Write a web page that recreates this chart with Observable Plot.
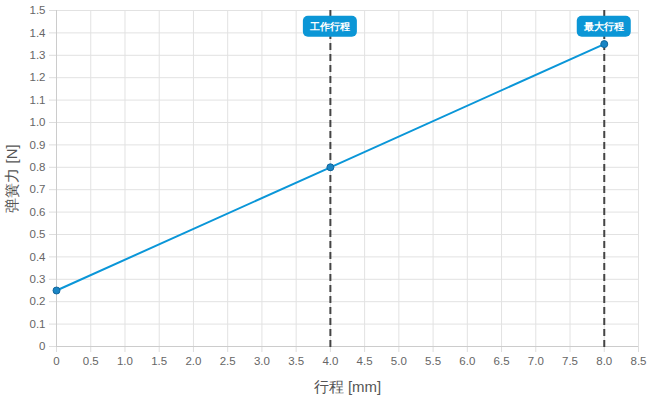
<!DOCTYPE html>
<html><head><meta charset="utf-8">
<script src="https://cdn.jsdelivr.net/npm/d3@7"></script>
<script src="https://cdn.jsdelivr.net/npm/@observablehq/plot@0.6"></script>
<style>body{margin:0;background:#fff;font-family:"Liberation Sans",Arial,sans-serif;}</style>
</head><body><div id="chart"></div>
<script>
const stroke = [0, 4, 8];           // mm
const force = [0.25, 0.8, 1.35];    // N
const markerX = [4, 8];
const markerLabels = ["工作行程", "最大行程"];
const xTicks = d3.range(0, 8.51, 0.5);
const yTicks = d3.range(0, 1.51, 0.1).map(v => +v.toFixed(1));

const pts = stroke.map((x, i) => ({x, y: force[i]}));
const markers = markerX.map((x, i) => ({x, label: markerLabels[i]}));
const fmt = d => d === 0 ? "0" : d.toFixed(1);

const chart = Plot.plot({
  width: 650, height: 400,
  marginLeft: 56, marginRight: 12, marginTop: 10, marginBottom: 54,
  style: {fontFamily: "'Liberation Sans', Arial, sans-serif", fontSize: "11.5px", color: "#666", background: "#fff"},
  x: {domain: [0, 8.5]},
  y: {domain: [0, 1.5]},
  marks: [
    Plot.gridX(xTicks, {stroke: "#e2e2e2", strokeOpacity: 1}),
    Plot.gridY(yTicks, {stroke: "#e2e2e2", strokeOpacity: 1}),
    Plot.axisX(xTicks, {tickFormat: fmt, tickSize: 6, stroke: "#ddd", tickPadding: 4, fill: "#666",
      label: "行程 [mm]", labelAnchor: "center", labelOffset: 45, labelArrow: "none"}),
    Plot.axisY(yTicks, {tickFormat: fmt, tickSize: 7, stroke: "#ddd", tickPadding: 4, fill: "#666",
      label: "弹簧力 [N]", labelAnchor: "center", labelOffset: 50, labelArrow: "none"}),
    Plot.ruleX([0], {stroke: "#ccc"}),
    Plot.ruleY([0], {stroke: "#ccc"}),
    Plot.ruleX(markers, {x: "x", stroke: "#444", strokeWidth: 2, strokeDasharray: "7,4", insetBottom: -4}),
    Plot.line(pts, {x: "x", y: "y", stroke: "#0a96d8", strokeWidth: 2}),
    Plot.dot(pts, {x: "x", y: "y", r: 3.5, fill: "#1a85c4", stroke: "#12669c", strokeWidth: 1}),
    Plot.text(markers, {x: "x", text: "label", frameAnchor: "top", lineAnchor: "middle", dy: 16, fill: "#fff",
      fontWeight: "bold", fontSize: 10})
  ]
});
document.getElementById("chart").appendChild(chart);
chart.querySelectorAll("[aria-label='x-axis label'] text, [aria-label='y-axis label'] text").forEach(t => {
  t.setAttribute("font-size", "15"); t.setAttribute("fill", "#555");
});
// add rounded label backgrounds behind marker labels
chart.querySelectorAll("g[aria-label='text'] text").forEach(t => {
  const b = t.getBBox();
  const cx = b.x + b.width / 2, cy = b.y + b.height / 2;
  const w = b.width + 13, h = 21;
  const r = document.createElementNS("http://www.w3.org/2000/svg", "rect");
  r.setAttribute("x", cx - w / 2); r.setAttribute("y", cy - h / 2);
  r.setAttribute("width", w); r.setAttribute("height", h);
  r.setAttribute("rx", 5); r.setAttribute("fill", "#0b96d6");
  if (t.getAttribute("transform")) r.setAttribute("transform", t.getAttribute("transform"));
  t.parentNode.insertBefore(r, t);
});
</script></body></html>
